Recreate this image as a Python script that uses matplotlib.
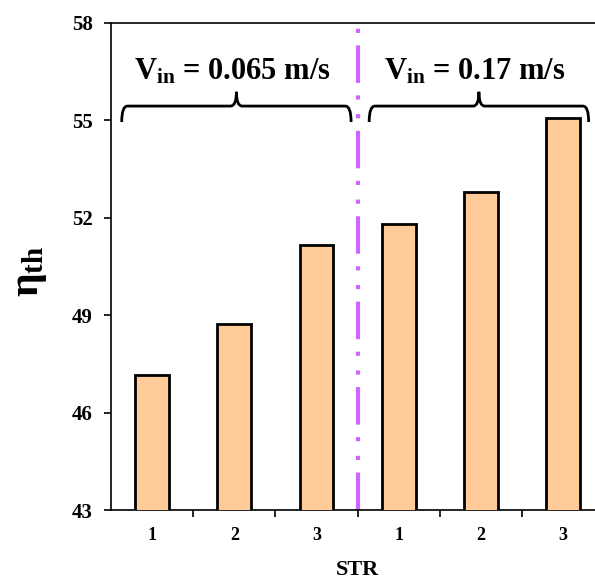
import matplotlib
matplotlib.use("Agg")
import matplotlib.pyplot as plt
import numpy as np
from matplotlib.path import Path
from matplotlib.patches import PathPatch

plt.rcParams['font.family'] = ['Liberation Serif', 'DejaVu Serif']
plt.rcParams['font.weight'] = 'bold'
plt.rcParams['mathtext.fontset'] = 'custom'
plt.rcParams['mathtext.rm'] = 'Liberation Serif:bold'
plt.rcParams['mathtext.bf'] = 'Liberation Serif:bold'
plt.rcParams['mathtext.it'] = 'Liberation Serif:bold'

str_labels = ['1', '2', '3', '1', '2', '3']
eta_th = [47.15, 48.73, 51.17, 51.82, 52.80, 55.08]
groups = [r'V$_{\mathbf{in}}$ = 0.065 m/s', r'V$_{\mathbf{in}}$ = 0.17 m/s']
group_span = [(0, 2), (3, 5)]
y_ticks = [43, 46, 49, 52, 55, 58]

fig = plt.figure(figsize=(5.95, 5.84), dpi=100)
ax = fig.add_axes([0.1866, 0.1267, 0.829, 0.834])

x = np.arange(len(eta_th))
ax.bar(x, eta_th, width=0.41, color='#FFCC99', edgecolor='black', linewidth=2.0, zorder=3)

ax.set_xlim(-0.5, len(eta_th) - 0.5)
ax.set_ylim(y_ticks[0], y_ticks[-1])
ax.set_yticks(y_ticks)
ax.set_xticks(x)
ax.set_xticklabels(str_labels)
ax.set_xticks(np.arange(0.5, len(eta_th) - 0.5), minor=True)
ax.tick_params(axis='x', which='major', length=0, pad=12, labelsize=13)
ax.tick_params(axis='x', which='minor', length=5, width=1.2, direction='out')
ax.tick_params(axis='y', length=5, width=1.2, direction='out', labelsize=15, pad=8)
for lab in ax.get_xticklabels() + ax.get_yticklabels():
    lab.set_fontweight('bold')

for s in ['left', 'bottom', 'top']:
    ax.spines[s].set_linewidth(1.2)
ax.spines['right'].set_visible(False)

ax.set_xlabel('STR', fontsize=16, fontweight='bold', labelpad=12)
ax.set_ylabel(r'$\mathbf{\eta}_{\mathbf{th}}$', fontsize=30)
ax.yaxis.set_label_coords(-0.125, 0.49)

# divider between the two inlet velocities
ax.axvline(2.5, color='#CC66FF', linewidth=3, linestyle=(0, (9, 3, 1, 3.5, 1, 3)), zorder=2)

# curly braces over each group
y_mid, y_end, y_tip = 55.44, 54.95, 55.88
dx = 0.07
brace_pad = [(0.37, 0.42), (0.36, 0.31)]
for (g0, g1), (p0, p1), txt in zip(group_span, brace_pad, groups):
    x0 = g0 - p0
    x1 = g1 + p1
    xm = (x0 + x1) / 2
    verts = [(x0, y_end), (x0, y_mid), (x0 + dx, y_mid),
             (xm - dx, y_mid), (xm, y_mid), (xm, y_tip),
             (xm, y_mid), (xm + dx, y_mid),
             (x1 - dx, y_mid), (x1, y_mid), (x1, y_end)]
    codes = [Path.MOVETO, Path.CURVE3, Path.CURVE3,
             Path.LINETO, Path.CURVE3, Path.CURVE3,
             Path.CURVE3, Path.CURVE3,
             Path.LINETO, Path.CURVE3, Path.CURVE3]
    ax.add_patch(PathPatch(Path(verts, codes), facecolor='none', edgecolor='black',
                           linewidth=2.0, zorder=4))
    ax.text(xm - 0.05, 56.5, txt, ha='center', va='center', fontsize=22, fontweight='bold')

fig.savefig('out.png', dpi=100, facecolor='white')
